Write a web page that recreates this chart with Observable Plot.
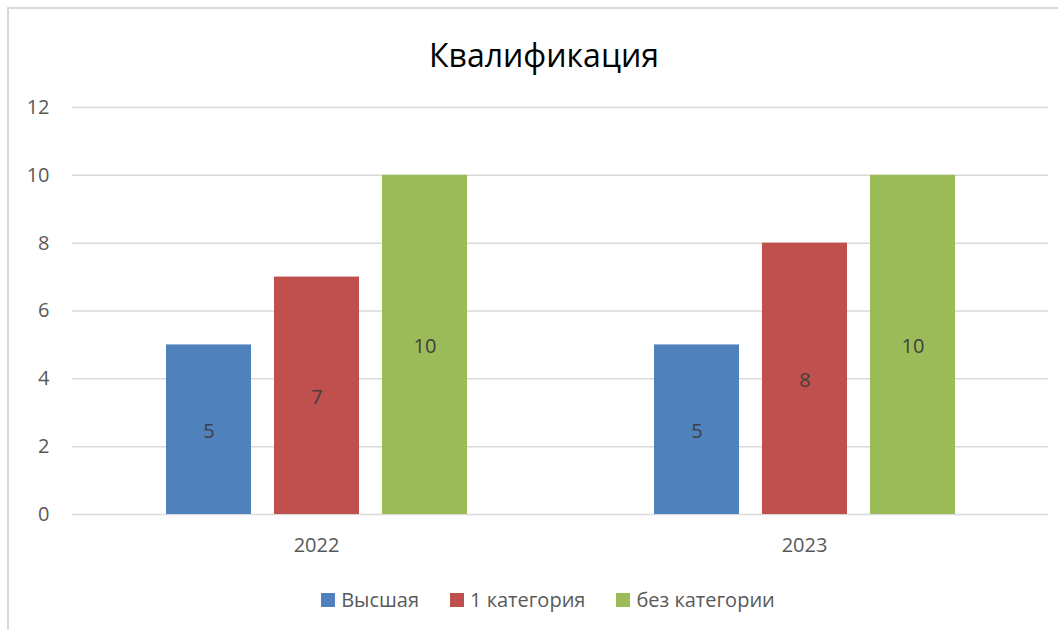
<!DOCTYPE html>
<html>
<head>
<meta charset="utf-8">
<script src="https://cdn.jsdelivr.net/npm/d3@7"></script>
<script src="https://cdn.jsdelivr.net/npm/@observablehq/plot@0.6"></script>
<style>
  html, body { margin: 0; padding: 0; background: #fff; }
  #wrap { position: relative; width: 1058px; height: 630px; overflow: hidden; font-family: "Open Sans", sans-serif; }
  #frame { position: absolute; left: 7px; top: 7px; width: 1060px; height: 640px; border-left: 2px solid #d9d9d9; border-top: 2px solid #d9d9d9; box-sizing: border-box; }
  #title { position: absolute; left: 0; width: 1088px; top: 33px; text-align: center; font-size: 32px; color: #000; line-height: 44px; }
  #chart { position: absolute; left: 0; top: 0; }
  #legend { position: absolute; left: 0; top: 586px; width: 1096px; display: flex; justify-content: center; gap: 31px; font-size: 20px; color: #595959; line-height: 28px; }
  .item { display: flex; align-items: center; gap: 6px; }
  .sw { width: 14px; height: 14px; display: inline-block; }
</style>
</head>
<body>
<div id="wrap">
  <div id="frame"></div>
  <div id="chart"></div>
  <div id="title">Квалификация</div>
  <div id="legend"></div>
</div>
<script>
const years = ["2022", "2023"];
const categories = ["Высшая", "1 категория", "без категории"];
const colors = ["#4F81BD", "#C0504D", "#9BBB59"];
const valuesVysshaya = [5, 5];
const values1kat = [7, 8];
const valuesBez = [10, 10];
const yTicks = [0, 2, 4, 6, 8, 10, 12];

const series = [valuesVysshaya, values1kat, valuesBez];
const data = [];
years.forEach((yr, i) => {
  categories.forEach((c, j) => {
    data.push({year: yr, category: c, value: series[j][i]});
  });
});

const chart = Plot.plot({
  width: 1058,
  height: 560,
  marginLeft: 71,
  marginRight: 10,
  marginTop: 107,
  marginBottom: 46,
  style: {fontFamily: "Open Sans, sans-serif", fontSize: "20px", color: "#595959", background: "transparent", overflow: "visible"},
  fx: {domain: years, padding: 0, label: null, tickSize: 0, tickPadding: 23, axis: "bottom"},
  x: {domain: categories, paddingInner: 0.217, paddingOuter: 0.86, axis: null},
  y: {domain: [0, 12], ticks: yTicks, label: null, tickSize: 0, tickPadding: 23},
  color: {domain: categories, range: colors},
  marks: [
    Plot.ruleY(yTicks, {stroke: "#d9d9d9", strokeWidth: 1.5}),
    Plot.barY(data, {fx: "year", x: "category", y: "value", fill: "category"}),
    Plot.text(data, {fx: "year", x: "category", y: d => d.value / 2, text: d => String(d.value), fill: "#404040", fontSize: 20, dy: 2})
  ]
});
document.getElementById("chart").appendChild(chart);

const legend = document.getElementById("legend");
categories.forEach((c, j) => {
  const it = document.createElement("div");
  it.className = "item";
  const sw = document.createElement("span");
  sw.className = "sw";
  sw.style.background = colors[j];
  const t = document.createElement("span");
  t.textContent = c;
  it.appendChild(sw);
  it.appendChild(t);
  legend.appendChild(it);
});
</script>
</body>
</html>
